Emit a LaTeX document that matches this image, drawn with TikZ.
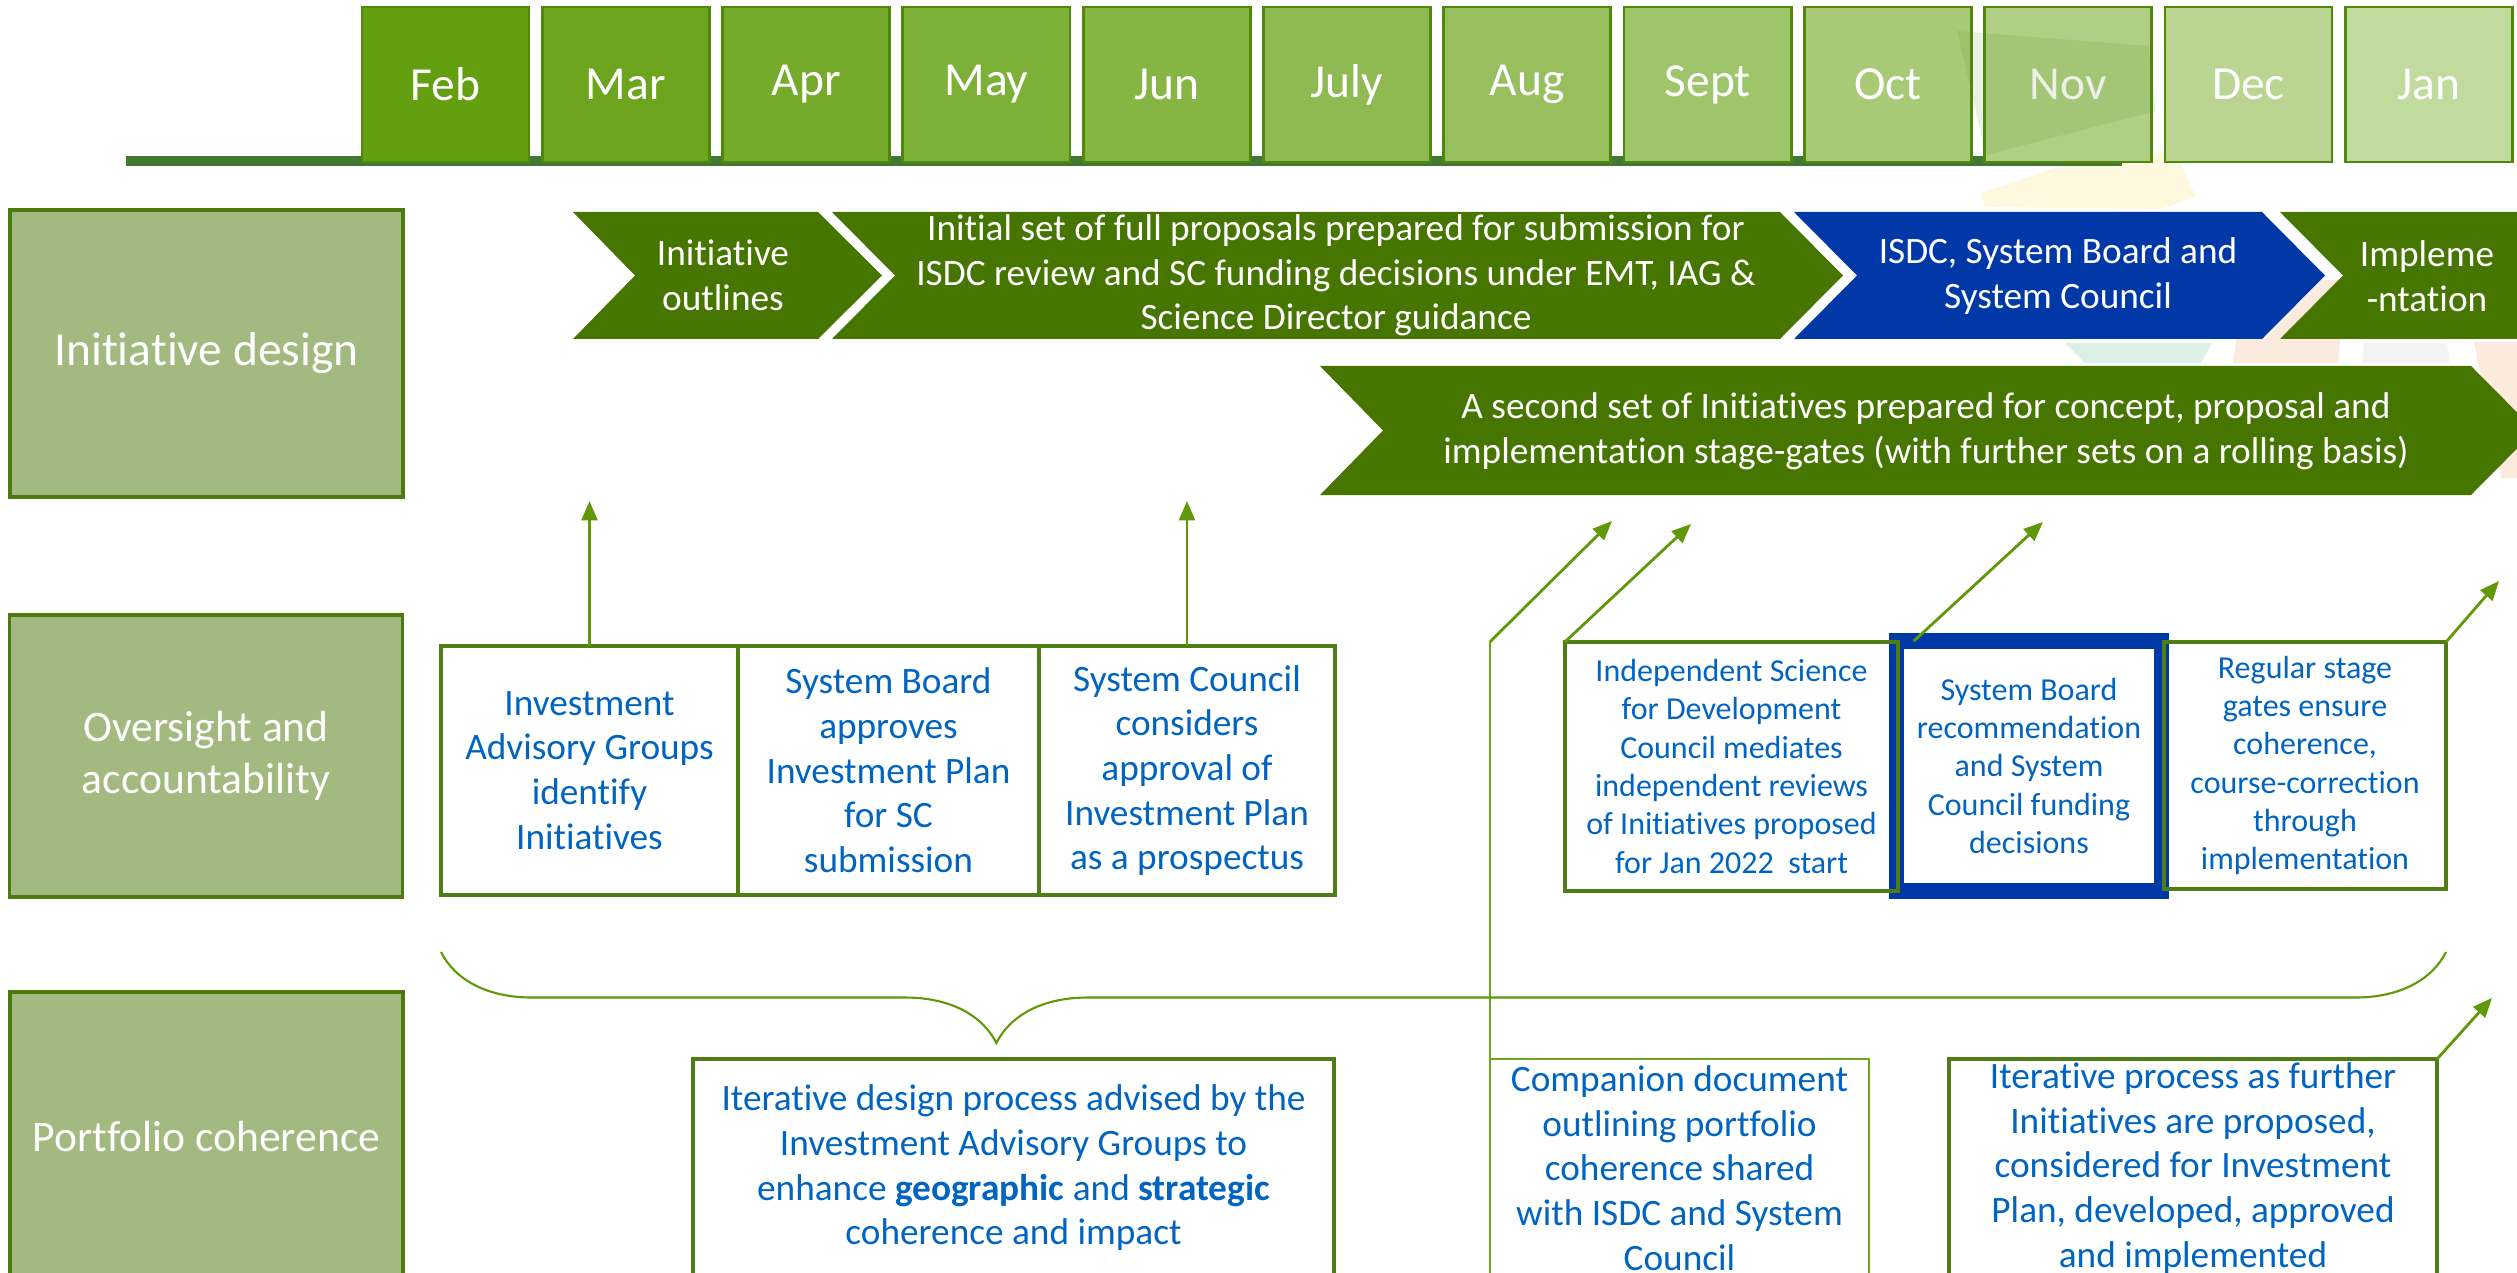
\documentclass[tikz,border=0pt]{standalone}
\usepackage{fontspec}
\setmainfont{Carlito}[Ligatures=CommonOff]
\usetikzlibrary{arrows.meta,decorations.pathreplacing}

\newcommand{\fsbig}{\fontsize{13.5}{15}\selectfont}
\newcommand{\fsrow}{\fontsize{12.4}{14.8}\selectfont}
\newcommand{\fsbody}{\fontsize{10.6}{12.7}\selectfont}
\newcommand{\fssmall}{\fontsize{9.1}{10.9}\selectfont}

\begin{document}
\begin{tikzpicture}[x=0.01cm,y=-0.01cm,
  month/.style={draw=monthedge,line width=0.8pt,minimum width=1.67cm,minimum height=1.55cm,
                text=white,font=\fsbig,inner sep=0pt,outer sep=0pt},
  rowlabel/.style={draw=rowedge,fill=rowfill,line width=1pt,minimum width=3.93cm,
                text=white,font=\fsrow,align=center,inner sep=0pt,outer sep=0pt},
  chevtext/.style={text=white,font=\fsbody,align=center,inner sep=0pt},
  stepbox/.style={draw=boxedge,line width=1.1pt,text=textblue,font=\fsbody,
                align=center,inner sep=0pt,outer sep=0pt},
  arr/.style={draw=arrowgreen,line width=0.8pt,-{Triangle[length=5.5pt,width=4.5pt]}},
  thinline/.style={draw=thinedge,line width=0.45pt},
]
% ------------------------------------------------ theme colours
\definecolor{chevgreen}{RGB}{70,117,0}     %#467500
\definecolor{chevblue}{RGB}{0,56,168}      %#0038A8
\definecolor{rowfill}{RGB}{162,185,127}    %#A2B97F
\definecolor{rowedge}{RGB}{76,122,15}
\definecolor{boxedge}{RGB}{78,125,20}
\definecolor{thinedge}{RGB}{112,165,35}
\definecolor{textblue}{RGB}{0,100,192}
\definecolor{arrowgreen}{RGB}{96,152,8}
\definecolor{barcolor}{RGB}{67,120,52}
\definecolor{monthedge}{RGB}{80,136,12}
\definecolor{mfirst}{RGB}{99,159,15}
\definecolor{mlast}{RGB}{193,218,158}
\definecolor{logoyellow}{RGB}{253,248,222}
\definecolor{logoteal}{RGB}{220,240,230}
\definecolor{logopeach}{RGB}{251,234,222}
\definecolor{logogrey}{RGB}{243,243,243}

\useasboundingbox (0,0) rectangle (2517,1273);
\clip (0,0) rectangle (2517,1273);

% ------------------------------------------------ faint logo in the back
\fill[logoyellow] (1981,193) -- (2055,168) -- (2174,150) -- (2196,197) -- (2160,209) -- (1985,207) -- cycle;
\fill[logoteal]   (2065,343) -- (2212,343) -- (2201,363) -- (2085,363) -- cycle;
\fill[logopeach]  (2244,280) -- (2345,280) -- (2338,363) -- (2233,363) -- cycle;
\fill[logogrey]   (2364,343) -- (2447,343) -- (2450,363) -- (2362,363) -- cycle;
\fill[logopeach]  (2474,342) -- (2517,342) -- (2517,478) -- (2501,478) -- cycle;

% ------------------------------------------------ months
\draw[line width=2.6pt,barcolor] (126,161) -- (2122,161);
\foreach \m [count=\i from 0] in {Feb,Mar,Apr,May,Jun,July,Aug,Sept,Oct,Nov,Dec,Jan}{
  \pgfmathtruncatemacro{\pct}{100-\i*100/11}
  \node[month,fill=mfirst!\pct!mlast] (m\i) at ({445.5+\i*180.3},84.5) {\m};
}
\fill[chevgreen,opacity=0.1] (1957,31) -- (2149,46) -- (2156,111) -- (1986,155) -- cycle;

% ------------------------------------------------ row labels
\node[rowlabel,font=\fsbig,minimum height=2.87cm] (design) at (206.5,353.5) {Initiative design};
\node[rowlabel,minimum height=2.82cm] (oversight) at (206,756)     {Oversight and\\accountability};
\node[rowlabel,minimum height=2.9cm]  (portfolio) at (206.5,1137)  {Portfolio coherence};

% ------------------------------------------------ chevrons
\fill[chevgreen] (573,212) -- (818,212) -- (882,275.5) -- (818,339) -- (573,339) -- (635,275.5) -- cycle;
\fill[chevgreen] (832,212) -- (1780,212) -- (1843,275.5) -- (1780,339) -- (832,339) -- (895,275.5) -- cycle;
\fill[chevblue]  (1794,212) -- (2262,212) -- (2325,275.5) -- (2262,339) -- (1794,339) -- (1857,275.5) -- cycle;
\fill[chevgreen] (2280,212) -- (2530,212) -- (2530,339) -- (2280,339) -- (2343,275.5) -- cycle;
\fill[chevgreen] (1320,366) -- (2471,366) -- (2535,430.5) -- (2471,495) -- (1320,495) -- (1383,430.5) -- cycle;

\node[chevtext] (outlines) at (723,275.5)  {Initiative\\outlines};
\node[chevtext] (fullset)  at (1336,275.5) {Initial set of full proposals prepared for submission for\\ISDC review and SC funding decisions under EMT, IAG \&\\Science Director guidance};
\node[chevtext] (isdc)     at (2058,276)   {ISDC, System Board and\\System Council};
\node[chevtext] (implem)   at (2427,276)   {Impleme\\-ntation};
\node[chevtext] (second)   at (1926,431)   {A second set of Initiatives prepared for concept, proposal and\\implementation stage-gates (with further sets on a rolling basis)};

% ------------------------------------------------ oversight boxes
\node[stepbox,minimum width=2.97cm,minimum height=2.49cm] (iag)    at (589.5,770.5) {Investment\\Advisory Groups\\identify\\Initiatives};
\node[stepbox,minimum width=3.01cm,minimum height=2.49cm] (sbplan) at (888.5,770.5) {System Board\\approves\\Investment Plan\\for SC\\submission};
\node[stepbox,minimum width=2.96cm,minimum height=2.49cm] (scplan) at (1187,770.5)  {System Council\\considers\\approval of\\Investment Plan\\as a prospectus};

\node[draw=chevblue,line width=4.4pt,minimum width=2.645cm,minimum height=2.495cm,text=textblue,
      font=\fssmall,align=center,inner sep=0pt,outer sep=0pt] (sbrec) at (2029,766)
      {System Board\\recommendation\\and System\\Council funding\\decisions};
\node[stepbox,font=\fssmall,minimum width=3.33cm,minimum height=2.49cm] (isdcrev) at (1731.5,766.5)
      {Independent Science\\for Development\\Council mediates\\independent reviews\\of Initiatives proposed\\for Jan 2022~ start};
\node[stepbox,font=\fssmall,minimum width=2.82cm,minimum height=2.47cm] (gates) at (2305,765.5)
      {Regular stage\\gates ensure\\coherence,\\course-correction\\through\\implementation};

% ------------------------------------------------ portfolio boxes
\node[stepbox,minimum width=6.41cm,minimum height=2.18cm] (iterdesign) at (1013.5,1168)
      {Iterative design process advised by the\\Investment Advisory Groups to\\enhance \textbf{geographic} and \textbf{strategic}\\coherence and impact};
\node[stepbox,draw=thinedge,line width=0.5pt,minimum width=3.79cm,minimum height=2.18cm] (companion) at (1679.5,1168)
      {Companion document\\outlining portfolio\\coherence shared\\with ISDC and System\\Council};
\node[stepbox,minimum width=4.88cm,minimum height=2.18cm] (iterproc) at (2193,1168)
      {Iterative process as further\\Initiatives are proposed,\\considered for Investment\\Plan, developed, approved\\and implemented};

% ------------------------------------------------ arrows
\coordinate (aim1) at (589.5,501);
\coordinate (aim2) at (1187,501);
\coordinate (kink) at (companion.north west |- isdcrev.north);
\coordinate (aim3) at (1612,521);
\coordinate (aim4) at (1691,524);
\coordinate (aim5) at (2043,522);
\coordinate (aim6) at (2499,581);
\coordinate (aim7) at (2492,998);

\draw[arr] (iag.north) -- (aim1);
\draw[arr] (scplan.north) -- (aim2);
\draw[thinline] (companion.north west) -- (kink);
\draw[arr] (kink) -- (aim3);
\draw[arr] (isdcrev.north west) -- (aim4);
\draw[arr] ([xshift=0.17cm]sbrec.north west) -- (aim5);
\draw[arr] (gates.north east) -- (aim6);
\draw[arr] (iterproc.north east) -- (aim7);

% ------------------------------------------------ brace
\coordinate (bracel) at (441,952);
\coordinate (bracer) at (2446,952);
\draw[arrowgreen,line width=0.6pt,decorate,decoration={brace,mirror,amplitude=0.91cm,aspect=0.277}] (bracel) -- (bracer);

\end{tikzpicture}
\end{document}
